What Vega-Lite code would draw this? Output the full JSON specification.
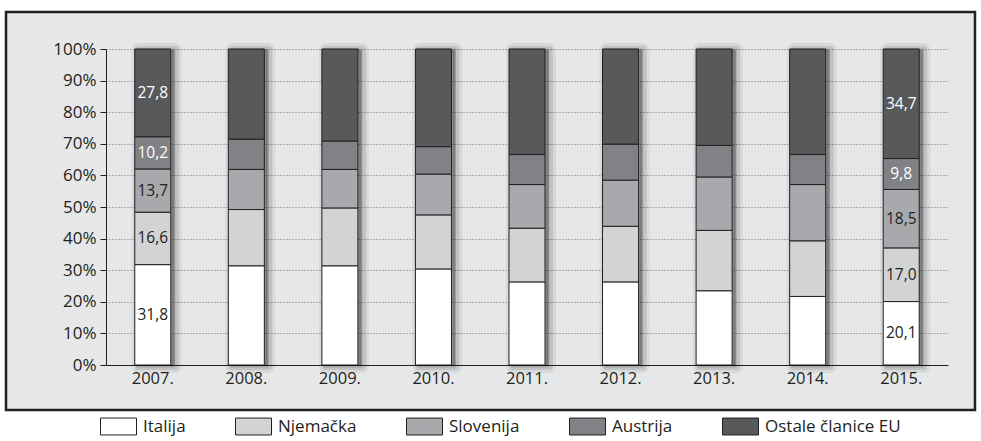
{
  "$schema": "https://vega.github.io/schema/vega-lite/v6.json",
  "width": 969,
  "height": 398,
  "autosize": {"type": "none"},
  "padding": {"left": 6, "top": 12, "right": 6, "bottom": 31},
  "background": "white",
  "data": {
    "values": [
      {"godina": "2007.", "zemlja": "Italija", "redoslijed": 1, "udio": 31.8},
      {"godina": "2007.", "zemlja": "Njemačka", "redoslijed": 2, "udio": 16.6},
      {"godina": "2007.", "zemlja": "Slovenija", "redoslijed": 3, "udio": 13.7},
      {"godina": "2007.", "zemlja": "Austrija", "redoslijed": 4, "udio": 10.2},
      {"godina": "2007.", "zemlja": "Ostale članice EU", "redoslijed": 5, "udio": 27.8},
      {"godina": "2008.", "zemlja": "Italija", "redoslijed": 1, "udio": 31.4},
      {"godina": "2008.", "zemlja": "Njemačka", "redoslijed": 2, "udio": 17.8},
      {"godina": "2008.", "zemlja": "Slovenija", "redoslijed": 3, "udio": 12.7},
      {"godina": "2008.", "zemlja": "Austrija", "redoslijed": 4, "udio": 9.6},
      {"godina": "2008.", "zemlja": "Ostale članice EU", "redoslijed": 5, "udio": 28.5},
      {"godina": "2009.", "zemlja": "Italija", "redoslijed": 1, "udio": 31.4},
      {"godina": "2009.", "zemlja": "Njemačka", "redoslijed": 2, "udio": 18.3},
      {"godina": "2009.", "zemlja": "Slovenija", "redoslijed": 3, "udio": 12.2},
      {"godina": "2009.", "zemlja": "Austrija", "redoslijed": 4, "udio": 9.0},
      {"godina": "2009.", "zemlja": "Ostale članice EU", "redoslijed": 5, "udio": 29.1},
      {"godina": "2010.", "zemlja": "Italija", "redoslijed": 1, "udio": 30.4},
      {"godina": "2010.", "zemlja": "Njemačka", "redoslijed": 2, "udio": 17.1},
      {"godina": "2010.", "zemlja": "Slovenija", "redoslijed": 3, "udio": 12.9},
      {"godina": "2010.", "zemlja": "Austrija", "redoslijed": 4, "udio": 8.7},
      {"godina": "2010.", "zemlja": "Ostale članice EU", "redoslijed": 5, "udio": 30.9},
      {"godina": "2011.", "zemlja": "Italija", "redoslijed": 1, "udio": 26.3},
      {"godina": "2011.", "zemlja": "Njemačka", "redoslijed": 2, "udio": 17.0},
      {"godina": "2011.", "zemlja": "Slovenija", "redoslijed": 3, "udio": 13.8},
      {"godina": "2011.", "zemlja": "Austrija", "redoslijed": 4, "udio": 9.5},
      {"godina": "2011.", "zemlja": "Ostale članice EU", "redoslijed": 5, "udio": 33.4},
      {"godina": "2012.", "zemlja": "Italija", "redoslijed": 1, "udio": 26.3},
      {"godina": "2012.", "zemlja": "Njemačka", "redoslijed": 2, "udio": 17.6},
      {"godina": "2012.", "zemlja": "Slovenija", "redoslijed": 3, "udio": 14.6},
      {"godina": "2012.", "zemlja": "Austrija", "redoslijed": 4, "udio": 11.4},
      {"godina": "2012.", "zemlja": "Ostale članice EU", "redoslijed": 5, "udio": 30.1},
      {"godina": "2013.", "zemlja": "Italija", "redoslijed": 1, "udio": 23.5},
      {"godina": "2013.", "zemlja": "Njemačka", "redoslijed": 2, "udio": 19.1},
      {"godina": "2013.", "zemlja": "Slovenija", "redoslijed": 3, "udio": 16.9},
      {"godina": "2013.", "zemlja": "Austrija", "redoslijed": 4, "udio": 10.0},
      {"godina": "2013.", "zemlja": "Ostale članice EU", "redoslijed": 5, "udio": 30.5},
      {"godina": "2014.", "zemlja": "Italija", "redoslijed": 1, "udio": 21.7},
      {"godina": "2014.", "zemlja": "Njemačka", "redoslijed": 2, "udio": 17.6},
      {"godina": "2014.", "zemlja": "Slovenija", "redoslijed": 3, "udio": 17.8},
      {"godina": "2014.", "zemlja": "Austrija", "redoslijed": 4, "udio": 9.5},
      {"godina": "2014.", "zemlja": "Ostale članice EU", "redoslijed": 5, "udio": 33.4},
      {"godina": "2015.", "zemlja": "Italija", "redoslijed": 1, "udio": 20.1},
      {"godina": "2015.", "zemlja": "Njemačka", "redoslijed": 2, "udio": 17.0},
      {"godina": "2015.", "zemlja": "Slovenija", "redoslijed": 3, "udio": 18.5},
      {"godina": "2015.", "zemlja": "Austrija", "redoslijed": 4, "udio": 9.8},
      {"godina": "2015.", "zemlja": "Ostale članice EU", "redoslijed": 5, "udio": 34.7}
    ]
  },
  "encoding": {
    "x": {
      "field": "godina",
      "type": "nominal",
      "sort": null,
      "scale": {"range": [100, 942], "paddingInner": 0.615, "paddingOuter": 0.3075},
      "axis": {
        "title": null,
        "labelAngle": 0,
        "ticks": false,
        "offset": -45,
        "domainColor": "#231f20",
        "domainWidth": 1,
        "labelPadding": 5,
        "labelFontSize": 16.5,
        "labelColor": "#231f20",
        "grid": false
      }
    },
    "y": {
      "field": "udio",
      "type": "quantitative",
      "stack": "normalize",
      "scale": {"range": [353, 37], "domain": [0, 1]},
      "axis": {
        "title": null,
        "format": ".0%",
        "values": [0, 0.1, 0.2, 0.3, 0.4, 0.5, 0.6, 0.7, 0.8, 0.9, 1],
        "offset": -100,
        "grid": true,
        "gridDash": [1, 2],
        "gridColor": "#6d6e71",
        "gridWidth": 1,
        "domainColor": "#231f20",
        "tickColor": "#231f20",
        "tickSize": 6,
        "labelPadding": 4,
        "labelFontSize": 17,
        "labelColor": "#231f20"
      }
    }
  },
  "layer": [
    {
      "transform": [{"aggregate": [{"op": "sum", "field": "udio", "as": "ukupno"}], "groupby": ["godina"]}],
      "mark": {"type": "bar", "fill": "#000000", "fillOpacity": 0.06, "stroke": "#000000", "strokeOpacity": 0.06, "strokeWidth": 14, "strokeJoin": "round", "xOffset": 4, "yOffset": 1},
      "encoding": {"y": {"field": "ukupno", "type": "quantitative", "stack": "normalize"}}
    },
    {
      "transform": [{"aggregate": [{"op": "sum", "field": "udio", "as": "ukupno"}], "groupby": ["godina"]}],
      "mark": {"type": "bar", "fill": "#000000", "fillOpacity": 0.1, "stroke": "#000000", "strokeOpacity": 0.1, "strokeWidth": 8, "strokeJoin": "round", "xOffset": 4, "yOffset": 1},
      "encoding": {"y": {"field": "ukupno", "type": "quantitative", "stack": "normalize"}}
    },
    {
      "transform": [{"aggregate": [{"op": "sum", "field": "udio", "as": "ukupno"}], "groupby": ["godina"]}],
      "mark": {"type": "bar", "fill": "#000000", "fillOpacity": 0.14, "stroke": "#000000", "strokeOpacity": 0.14, "strokeWidth": 3, "strokeJoin": "round", "xOffset": 3, "yOffset": 1},
      "encoding": {"y": {"field": "ukupno", "type": "quantitative", "stack": "normalize"}}
    },
    {
      "mark": {"type": "bar", "stroke": "#231f20", "strokeWidth": 1},
      "encoding": {
        "order": {"field": "redoslijed", "type": "quantitative", "sort": "ascending"},
        "color": {
          "field": "zemlja",
          "type": "nominal",
          "sort": ["Italija", "Njemačka", "Slovenija", "Austrija", "Ostale članice EU"],
          "scale": {
            "domain": ["Italija", "Njemačka", "Slovenija", "Austrija", "Ostale članice EU"],
            "range": ["#ffffff", "#d1d3d4", "#a7a9ac", "#808285", "#58595b"]
          },
          "legend": {
            "title": null,
            "orient": "none",
            "legendX": 94,
            "legendY": 396,
            "direction": "horizontal",
            "symbolType": "M-1,-0.47H1V0.47H-1Z",
            "symbolSize": 1296,
            "symbolStrokeColor": "#231f20",
            "symbolStrokeWidth": 1,
            "labelFontSize": 17,
            "labelColor": "#231f20",
            "labelOffset": 6,
            "columnPadding": 47,
            "labelLimit": 300
          }
        }
      }
    },
    {
      "transform": [{"filter": "datum.godina == '2007.' || datum.godina == '2015.'"}],
      "mark": {"type": "text", "fontSize": 15.5},
      "encoding": {
        "y": {
          "field": "udio",
          "type": "quantitative",
          "stack": "normalize",
          "bandPosition": 0.5
        },
        "order": {"field": "redoslijed", "type": "quantitative", "sort": "ascending"},
        "text": {"field": "udio", "type": "quantitative", "format": ".1f"},
        "color": {
          "field": "zemlja",
          "type": "nominal",
          "scale": {
            "domain": ["Italija", "Njemačka", "Slovenija", "Austrija", "Ostale članice EU"],
            "range": ["#231f20", "#231f20", "#231f20", "#ffffff", "#ffffff"]
          },
          "legend": null
        }
      }
    }
  ],
  "resolve": {"scale": {"color": "independent"}},
  "config": {
    "font": "Open Sans, sans-serif",
    "locale": {
      "number": {"decimal": ",", "thousands": ".", "grouping": [3], "currency": ["", " €"]}
    },
    "view": {"fill": "#e6e7e8", "stroke": "#231f20", "strokeWidth": 2.5}
  }
}
